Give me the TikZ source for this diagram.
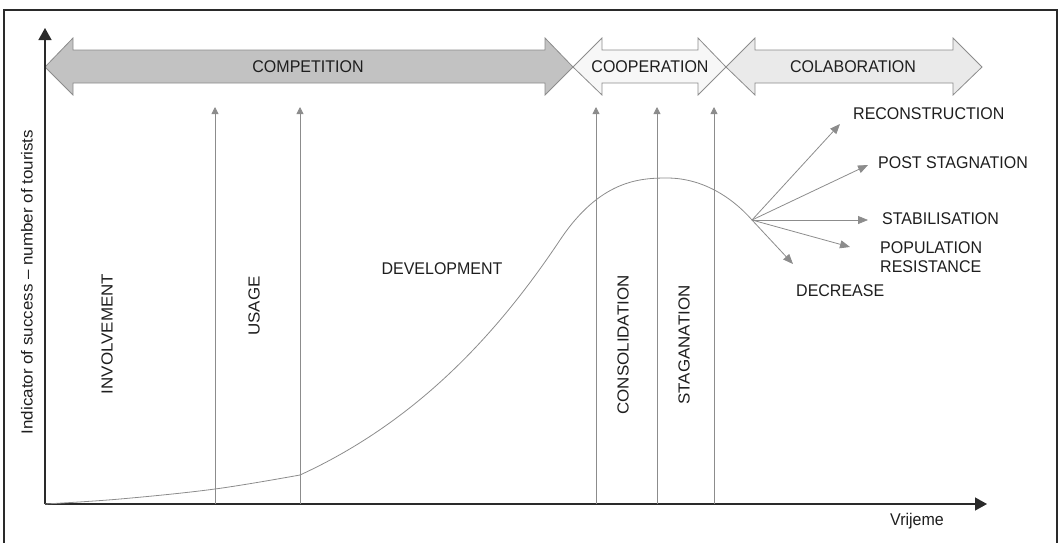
\documentclass[tikz,border=0pt]{standalone}
\usepackage{fontspec}
\setmainfont{Liberation Sans}
\usetikzlibrary{arrows.meta}
\definecolor{txt}{HTML}{1E1E1E}
\definecolor{axis}{HTML}{2A2A2A}
\definecolor{ln}{HTML}{8C8C8C}
\definecolor{compfill}{HTML}{C2C2C2}
\definecolor{coopfill}{HTML}{F7F7F7}
\definecolor{colfill}{HTML}{EAEAEA}
\tikzset{
  lbl/.style={font=\fontsize{16}{18}\selectfont, text=txt, inner sep=0pt, yscale=1.06},
  bigarrow/.style={draw=ln, line width=0.8pt, line join=miter},
  axisline/.style={draw=axis, line width=1.4pt, -{Triangle[length=12pt,width=13pt]}},
  phase/.style={draw=ln, line width=0.8pt, -{Triangle[length=7pt,width=7pt]}},
  ray/.style={draw=ln, line width=0.8pt, -{Triangle[length=10pt,width=8pt]}},
  curve/.style={draw=ln, line width=0.8pt}
}
\begin{document}
\begin{tikzpicture}[x=1pt,y=-1pt]
\useasboundingbox (0,0) rectangle (1061,542);
% frame
\draw[axis, line width=1.4pt] (4,545) -- (4,10) -- (1057,10) -- (1057,545);

% big arrows
\path[bigarrow, fill=compfill] (45,67) -- (73,38) -- (73,50) -- (545,50) -- (545,38) -- (573,67) -- (545,95) -- (545,83) -- (73,83) -- (73,95) -- cycle;
\path[bigarrow, fill=coopfill] (573,67) -- (602,38) -- (602,50) -- (698,50) -- (698,38) -- (726,67) -- (698,95) -- (698,83) -- (602,83) -- (602,95) -- cycle;
\path[bigarrow, fill=colfill] (726,67) -- (755,38) -- (755,50) -- (953,50) -- (953,38) -- (982,67) -- (953,95) -- (953,83) -- (755,83) -- (755,95) -- cycle;
\node[lbl] (comp) at (308,67) {COMPETITION};
\node[lbl] (coop) at (650,67) {COOPERATION};
\node[lbl] (colab) at (853,67) {COLABORATION};

% axes
\coordinate (origin) at (45,504);
\coordinate (ytip) at (45,28);
\coordinate (xtip) at (987,504);
\draw[axisline] (origin) -- (ytip);
\draw[axisline] (origin) -- (xtip);
\node[lbl, rotate=90] (ylab) at (27,282) {Indicator of success -- number of tourists};
\node[lbl] (xlab) at (917,521) {Vrijeme};

% phase lines
\foreach \n/\x in {a/215,b/300,c/596,d/657,e/714}{
  \coordinate (p\n0) at (\x,504);
  \coordinate (p\n1) at (\x,107);
  \draw[phase] (p\n0) -- (p\n1);
}

% curve
\coordinate (kink) at (300,475);
\coordinate (hub) at (752,220);
\draw[curve] plot[smooth, tension=0.6] coordinates {(45,504) (120,499) (215,489) (300,475)};
\draw[curve] (kink) .. controls (420,420) and (500,330) .. (560,240)
  .. controls (600,180) and (640,178) .. (667,178)
  .. controls (700,178) and (730,195) .. (hub);

% phase labels
\node[lbl, rotate=90] (inv) at (107,334) {INVOLVEMENT};
\node[lbl, rotate=90] (usage) at (254,306) {USAGE};
\node[lbl] (dev) at (442,269) {DEVELOPMENT};
\node[lbl, rotate=90] (cons) at (623,345) {CONSOLIDATION};
\node[lbl, rotate=90] (stag) at (684,345) {STAGANATION};

% rays
\coordinate (r1) at (840,124);
\coordinate (r2) at (868,165);
\coordinate (r3) at (868,220);
\coordinate (r4) at (850,247);
\coordinate (r5) at (793,264);
\foreach \r in {r1,r2,r3,r4,r5} \draw[ray] (hub) -- (\r);
\node[lbl, anchor=west] (recon) at (853,114) {RECONSTRUCTION};
\node[lbl, anchor=west] (post) at (878,163) {POST STAGNATION};
\node[lbl, anchor=west] (stab) at (882,219) {STABILISATION};
\node[lbl, anchor=west, align=left] (pop) at (880,257) {POPULATION\\RESISTANCE};
\node[lbl, anchor=west] (decr) at (796,291) {DECREASE};
\end{tikzpicture}
\end{document}
